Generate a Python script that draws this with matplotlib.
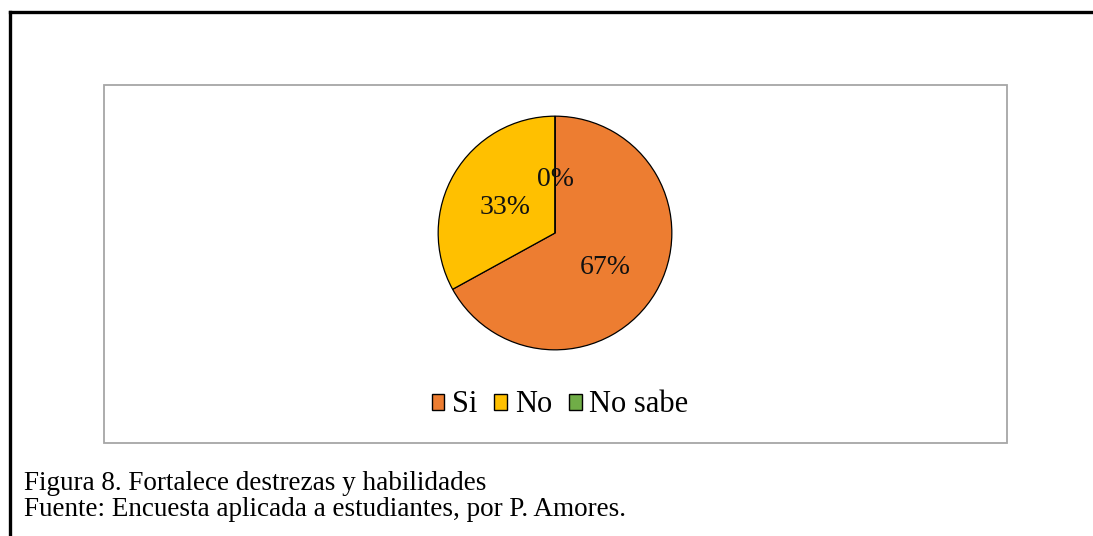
import matplotlib.pyplot as plt
from matplotlib.patches import Rectangle
from matplotlib.lines import Line2D

# datos
categorias = ['Si', 'No', 'No sabe']
porcentajes = [67, 33, 0]
colores = ['#ED7D31', '#FFC000', '#70AD47']

plt.rcParams['font.family'] = ['Liberation Serif', 'DejaVu Serif']

W, H = 1093, 536
fig = plt.figure(figsize=(W / 100, H / 100), dpi=100)

# marco exterior (solo arriba e izquierda)
fig.add_artist(Line2D([10 / W, 1], [1 - 12 / H, 1 - 12 / H], color='black', lw=2.4))
fig.add_artist(Line2D([10 / W, 10 / W], [0, 1 - 12 / H], color='black', lw=2.4))

# recuadro del grafico
fig.add_artist(Rectangle((104 / W, 1 - 443 / H), (1007 - 104) / W, (443 - 85) / H,
                         transform=fig.transFigure, fill=False,
                         edgecolor='#A6A6A6', lw=1.3))

# pastel
ax = fig.add_axes([437 / W, 1 - 351 / H, 236 / W, 236 / H])
wedges, textos, autotextos = ax.pie(
    porcentajes, colors=colores, startangle=90, counterclock=False,
    autopct='%1.0f%%', pctdistance=0.5,
    wedgeprops={'edgecolor': 'black', 'linewidth': 0.9},
    textprops={'fontsize': 20, 'color': '#111111'})
for t in autotextos:
    x, y = t.get_position()
    t.set_position((x, y - 0.04))
ax.set_xlim(-1.01, 1.01)
ax.set_ylim(-1.01, 1.01)
ax.set_aspect('equal')
for w in wedges:
    w.set_clip_on(False)

# leyenda
handles = [Rectangle((0, 0), 1, 1, facecolor=c, edgecolor='black', lw=1.0) for c in colores]
fig.legend(handles, categorias, loc='center', bbox_to_anchor=(560 / W, 1 - 405 / H),
           ncol=3, frameon=False, fontsize=22, handlelength=0.42, handleheight=0.42,
           handletextpad=0.25, columnspacing=0.55)

# pie de figura
fig.text(24 / W, 1 - 483 / H, 'Figura 8. Fortalece destrezas y habilidades',
         fontsize=19.5, va='center', ha='left')
fig.text(24 / W, 1 - 510 / H, 'Fuente: Encuesta aplicada a estudiantes, por P. Amores.',
         fontsize=19.5, va='center', ha='left')

fig.savefig('out.png', dpi=100)
